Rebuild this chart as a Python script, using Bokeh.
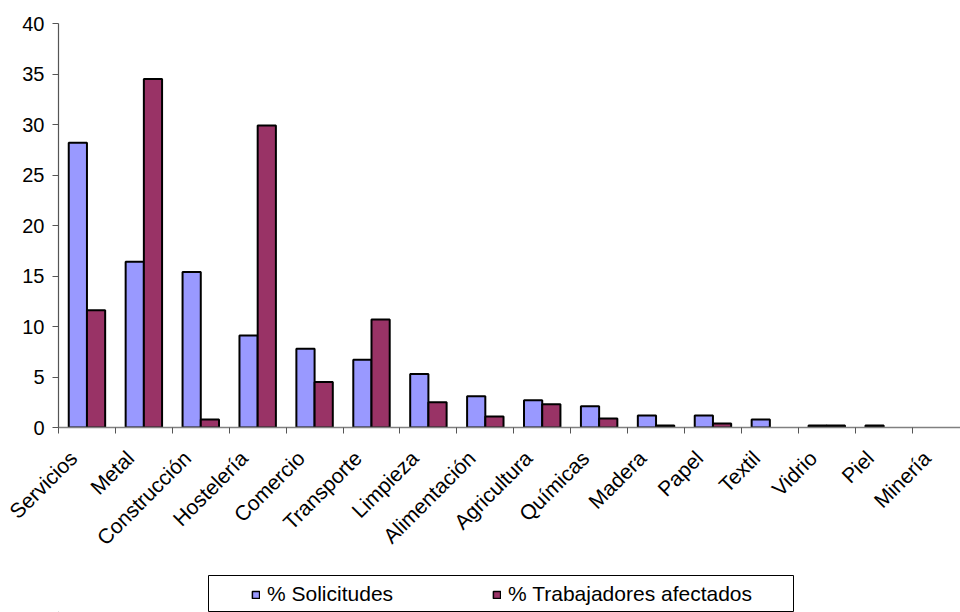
import math
from bokeh.plotting import figure
from bokeh.layouts import column
from bokeh.models import Range1d, FixedTicker, Legend, LegendItem, ColumnDataSource
from bokeh.embed import file_html
from bokeh.resources import INLINE

categories = ["Servicios", "Metal", "Construcción", "Hostelería", "Comercio", "Transporte",
              "Limpieza", "Alimentación", "Agricultura", "Químicas", "Madera", "Papel",
              "Textil", "Vidrio", "Piel", "Minería"]
solicitudes = [28.2, 16.4, 15.4, 9.1, 7.8, 6.7, 5.3, 3.1, 2.7, 2.1, 1.2, 1.2, 0.8, 0.2, 0.2, 0.0]
trabajadores = [11.6, 34.5, 0.8, 29.9, 4.5, 10.7, 2.5, 1.1, 2.3, 0.9, 0.2, 0.4, 0.0, 0.2, 0.0, 0.0]
y_ticks = [0, 5, 10, 15, 20, 25, 30, 35, 40]
series_names = ["% Solicitudes", "% Trabajadores afectados"]
colors = ["#9999FF", "#993366"]

FONT = "Liberation Sans"
BW = 0.32
BAR_LINE = 2
LABEL_SHIFT = -0.24   # rotated labels end slightly left of the category centre

p = figure(width=960, height=560, output_backend="svg", toolbar_location=None,
           x_range=Range1d(0, 15.85), y_range=Range1d(0, 40),
           min_border_left=58, min_border_right=0, min_border_top=23, min_border_bottom=132)
p.outline_line_color = None
p.xgrid.visible = False
p.ygrid.visible = False
p.background_fill_color = "white"
p.border_fill_color = "white"

for k, vals in enumerate([solicitudes, trabajadores]):
    off = -BW / 2 if k == 0 else BW / 2
    xs = [i + 0.5 + off for i, v in enumerate(vals) if v > 0]
    tops = [v for v in vals if v > 0]
    src = ColumnDataSource(dict(x=xs, top=tops))
    p.vbar(x="x", top="top", width=BW, bottom=0, source=src,
           fill_color=colors[k], line_color="black", line_width=BAR_LINE)

# y axis
p.yaxis.ticker = FixedTicker(ticks=y_ticks)
p.yaxis.major_label_text_font = FONT
p.yaxis.major_label_text_font_size = "20px"
p.yaxis.major_label_text_color = "black"
p.yaxis.axis_line_color = "#555555"
p.yaxis.axis_line_width = 1.2
p.yaxis.major_tick_line_color = "#555555"
p.yaxis.major_tick_out = 6
p.yaxis.major_tick_in = 0
p.yaxis.minor_tick_line_color = None
p.yaxis.major_label_standoff = 8

# x axis
label_pos = [i + 0.5 + LABEL_SHIFT for i in range(len(categories))]
bounds = list(range(len(categories)))
p.xaxis.ticker = FixedTicker(ticks=label_pos, minor_ticks=bounds)
p.xaxis.major_label_overrides = {c: n for c, n in zip(label_pos, categories)}
p.xaxis.major_label_orientation = math.pi / 4
p.xaxis.major_label_text_font = FONT
p.xaxis.major_label_text_font_size = "21px"
p.xaxis.major_label_text_color = "black"
p.xaxis.major_tick_out = 0
p.xaxis.major_tick_in = 0
p.xaxis.major_tick_line_color = None
p.xaxis.minor_tick_out = 6
p.xaxis.minor_tick_in = 0
p.xaxis.minor_tick_line_color = "#555555"
p.xaxis.axis_line_color = "#808080"
p.xaxis.axis_line_width = 1.5
p.xaxis.major_label_standoff = 21

# legend strip below the chart (frame aligned with the chart frame: x 58..960 px)
q = figure(width=960, height=52, output_backend="svg", toolbar_location=None,
           x_range=Range1d(58, 960), y_range=Range1d(0, 52),
           min_border_left=58, min_border_right=0, min_border_top=0, min_border_bottom=0)
q.axis.visible = False
q.grid.visible = False
q.outline_line_color = None
q.border_fill_color = "white"
q.background_fill_color = "white"

legend_box = dict(left=[208], right=[793], top=[37], bottom=[1])
q.quad(source=ColumnDataSource(legend_box), left="left", right="right", top="top", bottom="bottom",
       fill_color="white", line_color="black", line_width=1)

leg_renderers = []
for k in range(2):
    r = q.vbar(x=[-1000], top=[0], width=1, bottom=0,
               fill_color=colors[k], line_color="black", line_width=1.5)
    leg_renderers.append(r)

legend = Legend(items=[LegendItem(label=series_names[k], renderers=[leg_renderers[k]]) for k in range(2)],
                orientation="horizontal", location=(251 - 58, 6),
                label_text_font=FONT, label_text_font_size="21px",
                glyph_width=9, glyph_height=9, label_standoff=7, spacing=99,
                padding=0, margin=0,
                border_line_color=None, background_fill_alpha=0)
legend.label_text_color = "black"
q.add_layout(legend, "center")

open("out.html", "w").write(file_html(column(p, q), INLINE))
